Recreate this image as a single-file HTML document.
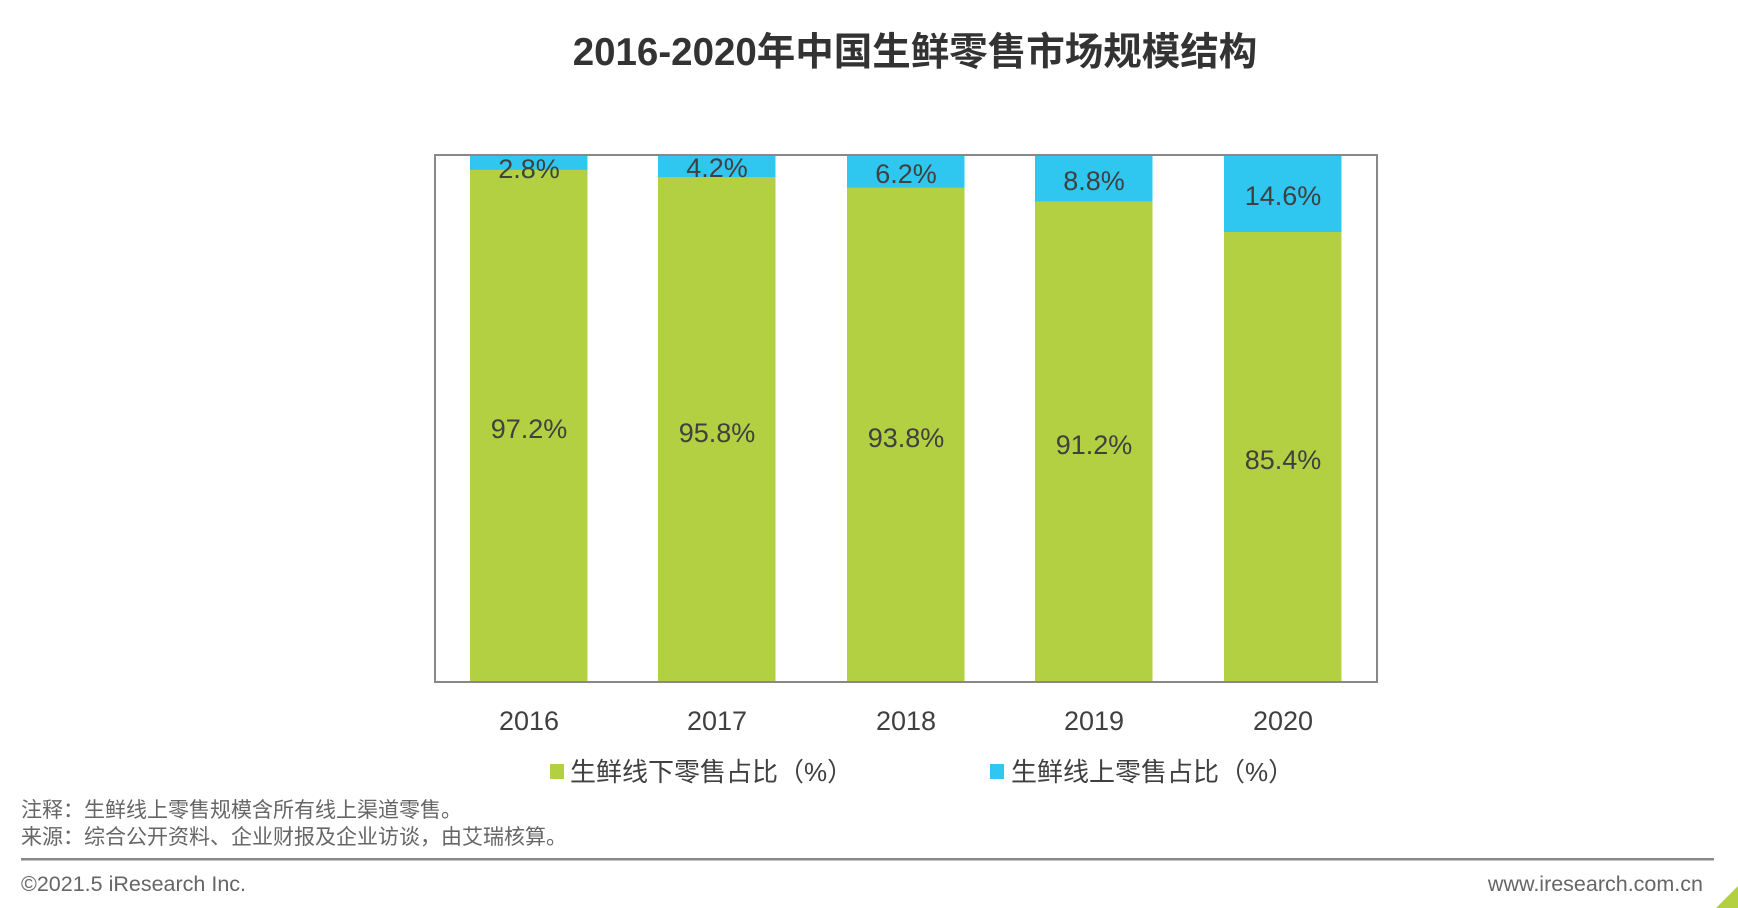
<!DOCTYPE html>
<html><head><meta charset="utf-8"><style>
body{margin:0;width:1738px;height:908px;background:#fff;overflow:hidden;position:relative;font-family:"Liberation Sans","Noto Sans CJK SC",sans-serif;color:#404040}
.a{position:absolute;white-space:nowrap}
</style></head><body>
<div class="a" style="left:0;width:1830px;top:21px;text-align:center;font-size:38.5px;font-weight:bold;color:#333;">2016-2020年中国生鲜零售市场规模结构</div>
<svg class="a" style="left:0;top:0" width="1738" height="908">
<g font-family="Liberation Sans, Noto Sans CJK SC, sans-serif" fill="#404040" text-anchor="middle">
<rect x="470" y="155" width="117.5" height="527" fill="#b3d042"/><rect x="470" y="155" width="117.5" height="14.8" fill="#2fc7ef"/>
<rect x="658" y="155" width="117.5" height="527" fill="#b3d042"/><rect x="658" y="155" width="117.5" height="22.1" fill="#2fc7ef"/>
<rect x="847" y="155" width="117.5" height="527" fill="#b3d042"/><rect x="847" y="155" width="117.5" height="32.7" fill="#2fc7ef"/>
<rect x="1035" y="155" width="117.5" height="527" fill="#b3d042"/><rect x="1035" y="155" width="117.5" height="46.4" fill="#2fc7ef"/>
<rect x="1224" y="155" width="117.5" height="527" fill="#b3d042"/><rect x="1224" y="155" width="117.5" height="77" fill="#2fc7ef"/>
<rect x="435" y="155" width="942" height="527" fill="none" stroke="#888" stroke-width="2"/>
<g font-size="27">
<text x="529" y="178">2.8%</text><text x="717" y="177">4.2%</text><text x="906" y="183">6.2%</text><text x="1094" y="190">8.8%</text><text x="1283" y="205">14.6%</text>
<text x="529" y="438">97.2%</text><text x="717" y="442">95.8%</text><text x="906" y="447">93.8%</text><text x="1094" y="454">91.2%</text><text x="1283" y="469">85.4%</text>
<text x="529" y="730">2016</text><text x="717" y="730">2017</text><text x="906" y="730">2018</text><text x="1094" y="730">2019</text><text x="1283" y="730">2020</text>
</g>
<rect x="550" y="764" width="14" height="15" fill="#b3d042"/>
<rect x="990" y="764" width="14" height="15" fill="#2fc7ef"/>
<g font-size="26" text-anchor="start"><text x="570" y="781">生鲜线下零售占比（%）</text><text x="1011" y="781">生鲜线上零售占比（%）</text></g>
<g font-size="21" text-anchor="start" fill="#666"><text x="21" y="817">注释：生鲜线上零售规模含所有线上渠道零售。</text><text x="21" y="844">来源：综合公开资料、企业财报及企业访谈，由艾瑞核算。</text></g>
<g font-size="21.5" text-anchor="start" fill="#666"><text x="21" y="891">©2021.5 iResearch Inc.</text><text x="1703" y="891" text-anchor="end">www.iresearch.com.cn</text></g>
<rect x="21" y="858" width="1693" height="2.5" fill="#888"/>
<polygon points="1738,886 1738,908 1716,908" fill="#b3d042"/>
</g></svg>
</body></html>
